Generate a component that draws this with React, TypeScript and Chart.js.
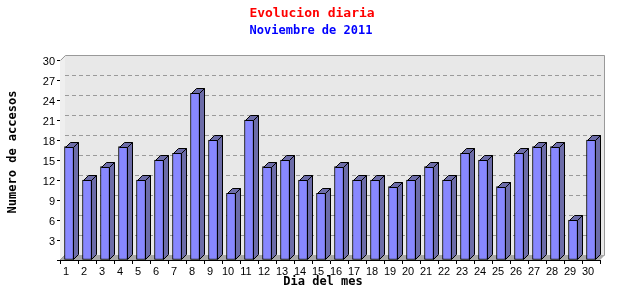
import React, { useEffect, useRef } from "react";
import { Chart, registerables } from "chart.js";

Chart.register(...registerables);

const days: string[] = Array.from({ length: 30 }, (_, i) => String(i + 1));
const visits: number[] = [17, 12, 14, 17, 12, 15, 16, 25, 18, 10, 21, 14, 15, 12, 10, 14, 12, 12, 11, 12, 14, 12, 16, 15, 11, 16, 17, 17, 6, 18];
const yMax = 30;
const yStep = 3;
const titleText = "Evolucion diaria";
const subtitleText = "Noviembre de 2011";
const yTitle = "Numero de accesos";
const xTitle = "Dia del mes";

const DX = 5;
const DY = 5;

const threeD = {
  id: "threeD",
  beforeDatasetsDraw(chart: any) {
    const { ctx, chartArea } = chart;
    const { left, right, top, bottom } = chartArea;
    const y = chart.scales.y;
    ctx.save();
    // back wall
    ctx.fillStyle = "#e8e8e8";
    ctx.fillRect(left + DX, top - DY, right - left, bottom - top);
    // left wall
    ctx.fillStyle = "#efefef";
    ctx.beginPath();
    ctx.moveTo(left, top);
    ctx.lineTo(left + DX, top - DY);
    ctx.lineTo(left + DX, bottom - DY);
    ctx.lineTo(left, bottom);
    ctx.closePath();
    ctx.fill();
    // floor
    ctx.fillStyle = "#a8a8a8";
    ctx.beginPath();
    ctx.moveTo(left, bottom);
    ctx.lineTo(left + DX, bottom - DY);
    ctx.lineTo(right + DX, bottom - DY);
    ctx.lineTo(right, bottom);
    ctx.closePath();
    ctx.fill();
    // grid lines
    ctx.strokeStyle = "#9a9a9a";
    ctx.lineWidth = 1;
    ctx.setLineDash([4, 3]);
    for (let v = yStep; v < yMax; v += yStep) {
      const py = Math.round(y.getPixelForValue(v) - DY) + 0.5;
      ctx.beginPath();
      ctx.moveTo(left + DX, py);
      ctx.lineTo(right + DX, py);
      ctx.stroke();
    }
    ctx.setLineDash([]);
    // borders
    ctx.strokeStyle = "#999999";
    ctx.beginPath();
    ctx.moveTo(left + 0.5, top + 0.5);
    ctx.lineTo(left + DX + 0.5, top - DY + 0.5);
    ctx.lineTo(right + DX - 0.5, top - DY + 0.5);
    ctx.lineTo(right + DX - 0.5, bottom - DY + 0.5);
    ctx.stroke();
    ctx.beginPath();
    ctx.moveTo(left + 0.5, bottom - 0.5);
    ctx.lineTo(left + DX + 0.5, bottom - DY - 0.5);
    ctx.stroke();
    ctx.restore();
  },
  afterDatasetsDraw(chart: any) {
    const { ctx } = chart;
    const meta = chart.getDatasetMeta(0);
    ctx.save();
    ctx.lineWidth = 1;
    ctx.strokeStyle = "#000000";
    ctx.fillStyle = "#6c6ca8";
    meta.data.forEach((bar: any) => {
      const { x, y, base, width } = bar.getProps(["x", "y", "base", "width"], true);
      const l = Math.round(x - width / 2) + 0.5;
      const r = Math.round(x + width / 2) - 0.5;
      const t = Math.round(y) + 0.5;
      const b = Math.round(base) - 0.5;
      // side
      ctx.beginPath();
      ctx.moveTo(r, t);
      ctx.lineTo(r + DX, t - DY);
      ctx.lineTo(r + DX, b - DY);
      ctx.lineTo(r, b);
      ctx.closePath();
      ctx.fill();
      ctx.stroke();
      // top
      ctx.beginPath();
      ctx.moveTo(l, t);
      ctx.lineTo(l + DX, t - DY);
      ctx.lineTo(r + DX, t - DY);
      ctx.lineTo(r, t);
      ctx.closePath();
      ctx.fill();
      ctx.stroke();
    });
    ctx.restore();
  },
  afterDraw(chart: any) {
    const { ctx } = chart;
    ctx.save();
    ctx.textAlign = "center";
    ctx.textBaseline = "middle";
    ctx.fillStyle = "#ff0000";
    ctx.font = "bold 13px 'DejaVu Sans Mono'";
    ctx.fillText(titleText, 312, 14);
    ctx.fillStyle = "#0000ff";
    ctx.font = "bold 12px 'DejaVu Sans Mono'";
    ctx.fillText(subtitleText, 311, 31);
    ctx.fillStyle = "#000000";
    ctx.fillText(xTitle, 323, 282);
    ctx.translate(13, 152);
    ctx.rotate(-Math.PI / 2);
    ctx.fillText(yTitle, 0, 0);
    ctx.restore();
  },
};

export default function App() {
  const ref = useRef<HTMLCanvasElement | null>(null);
  useEffect(() => {
    document.body.style.margin = "0";
    const canvas = ref.current!;
    const chart = new Chart(canvas, {
      type: "bar",
      data: {
        labels: days,
        datasets: [
          {
            data: visits,
            backgroundColor: "#8888ff",
            borderColor: "#000000",
            borderWidth: 1,
            barThickness: 9,
            borderSkipped: false,
          },
        ],
      },
      options: {
        responsive: false,
        animation: false,
        devicePixelRatio: 1,
        layout: { padding: { left: 0, right: 40, top: 60, bottom: 0 } },
        plugins: { legend: { display: false }, title: { display: false }, tooltip: { enabled: false } },
        scales: {
          x: {
            afterFit: (s: any) => {
              s.height = 40;
            },
            border: { display: true, color: "#000000", width: 1 },
            grid: { drawOnChartArea: false, drawTicks: true, tickLength: 4, color: "#000000", offset: true },
            ticks: {
              color: "#000000",
              font: { family: "Liberation Sans", size: 11 },
              padding: 1,
              labelOffset: -3,
              maxRotation: 0,
              autoSkip: false,
            },
          },
          y: {
            min: 0,
            max: yMax,
            afterFit: (s: any) => {
              s.width = 60;
            },
            border: { display: true, color: "#000000", width: 1 },
            grid: { drawOnChartArea: false, drawTicks: true, tickLength: 3, color: "#000000" },
            ticks: {
              stepSize: yStep,
              color: "#000000",
              font: { family: "Liberation Sans", size: 11 },
              padding: 2,
              labelOffset: 2,
              callback: (v: any) => (v === 0 ? "" : String(v)),
            },
          },
        },
      },
      plugins: [threeD],
    });
    return () => chart.destroy();
  }, []);
  return (
    <div style={{ position: "absolute", left: 0, top: 0, width: 640, height: 300 }}>
      <canvas ref={ref} width={640} height={300} style={{ width: 640, height: 300 }} />
    </div>
  );
}
